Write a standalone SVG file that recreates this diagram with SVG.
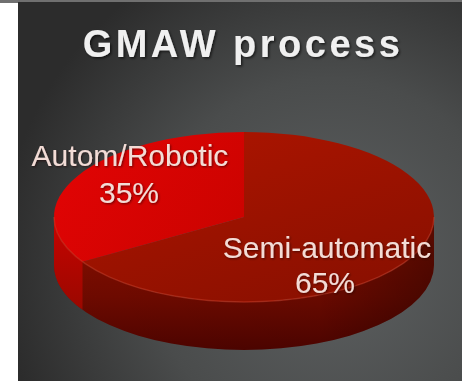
<svg xmlns="http://www.w3.org/2000/svg" width="474" height="381" viewBox="0 0 474 381">
  <style>
    .title { font-family: "Liberation Sans", Arial, sans-serif; font-weight: bold; font-size: 38px; fill: #f0f0f0; letter-spacing: 3.5px; }
    .lbl { font-family: "Liberation Sans", Arial, sans-serif; font-size: 30px; fill: #f3dcd6; }
  </style>
  <defs>
    <filter id="ts" x="-10%" y="-20%" width="120%" height="150%">
      <feDropShadow dx="1.5" dy="1.5" stdDeviation="1" flood-color="#000" flood-opacity="0.6"/>
    </filter>
    <filter id="ls" x="-10%" y="-20%" width="120%" height="150%">
      <feDropShadow dx="1" dy="1" stdDeviation="0.8" flood-color="#200000" flood-opacity="0.6"/>
    </filter>
    <radialGradient id="bg" cx="330" cy="260" r="330" gradientUnits="userSpaceOnUse">
      <stop offset="0" stop-color="#5e6162"/>
      <stop offset="0.55" stop-color="#4a4c4c"/>
      <stop offset="1" stop-color="#2c2c2c"/>
    </radialGradient>
    <linearGradient id="sideDark" x1="0" y1="217" x2="0" y2="350" gradientUnits="userSpaceOnUse">
      <stop offset="0" stop-color="#8e1000"/>
      <stop offset="0.6" stop-color="#6e0a00"/>
      <stop offset="1" stop-color="#4e0400"/>
    </linearGradient>
    <linearGradient id="sideH" x1="54" y1="0" x2="434" y2="0" gradientUnits="userSpaceOnUse">
      <stop offset="0" stop-color="#000" stop-opacity="0"/>
      <stop offset="0.7" stop-color="#000" stop-opacity="0.05"/>
      <stop offset="1" stop-color="#000" stop-opacity="0.35"/>
    </linearGradient>
    <linearGradient id="topDark" x1="244" y1="132" x2="300" y2="302" gradientUnits="userSpaceOnUse">
      <stop offset="0" stop-color="#a81400"/>
      <stop offset="1" stop-color="#8c1000"/>
    </linearGradient>
    <linearGradient id="topLight" x1="80" y1="150" x2="220" y2="250" gradientUnits="userSpaceOnUse">
      <stop offset="0" stop-color="#e00404"/>
      <stop offset="1" stop-color="#cc0300"/>
    </linearGradient>
    <linearGradient id="sideLight" x1="0" y1="217" x2="0" y2="310" gradientUnits="userSpaceOnUse">
      <stop offset="0" stop-color="#c80300"/>
      <stop offset="1" stop-color="#9a0800"/>
    </linearGradient>
  </defs>

  <rect x="0" y="0" width="462" height="3" fill="#707070"/>
  <rect id="panel" x="18" y="2" width="444" height="379" fill="url(#bg)"/>

  <g id="title">
    <text class="title" x="243" y="57" text-anchor="middle" filter="url(#ts)">GMAW process</text>
  </g>

  <g id="pie">
    <g id="side">
      <path d="M 54 217 A 190 85 0 0 0 434 217 L 434 265 A 190 85 0 0 1 54 265 Z" fill="url(#sideDark)"/>
      <path d="M 54 217 A 190 85 0 0 0 434 217 L 434 265 A 190 85 0 0 1 54 265 Z" fill="url(#sideH)"/>
      <path d="M 54 217 A 190 85 0 0 0 82.5 261.8 L 82.5 309.8 A 190 85 0 0 1 54 265 Z" fill="url(#sideLight)"/>
    </g>
    <g id="slice-semi">
      <path d="M 244 217 L 82.5 261.8 A 190 85 0 1 0 244 132 Z" fill="url(#topDark)"/>
    </g>
    <g id="slice-autom">
      <path d="M 244 217 L 244 132 A 190 85 0 0 0 82.5 261.8 Z" fill="url(#topLight)"/>
    </g>
    <path d="M 54 217 A 190 85 0 0 0 434 217" fill="none" stroke="#d0402a" stroke-opacity="0.45" stroke-width="1.5"/>
  </g>

  <g id="label-autom" filter="url(#ls)">
    <text class="lbl" x="130" y="166" text-anchor="middle">Autom/Robotic</text>
    <text class="lbl" x="129" y="203" text-anchor="middle">35%</text>
  </g>
  <g id="label-semi" filter="url(#ls)">
    <text class="lbl" x="327" y="258" text-anchor="middle">Semi-automatic</text>
    <text class="lbl" x="325" y="293" text-anchor="middle">65%</text>
  </g>
  <g id="connectors"/>
</svg>
